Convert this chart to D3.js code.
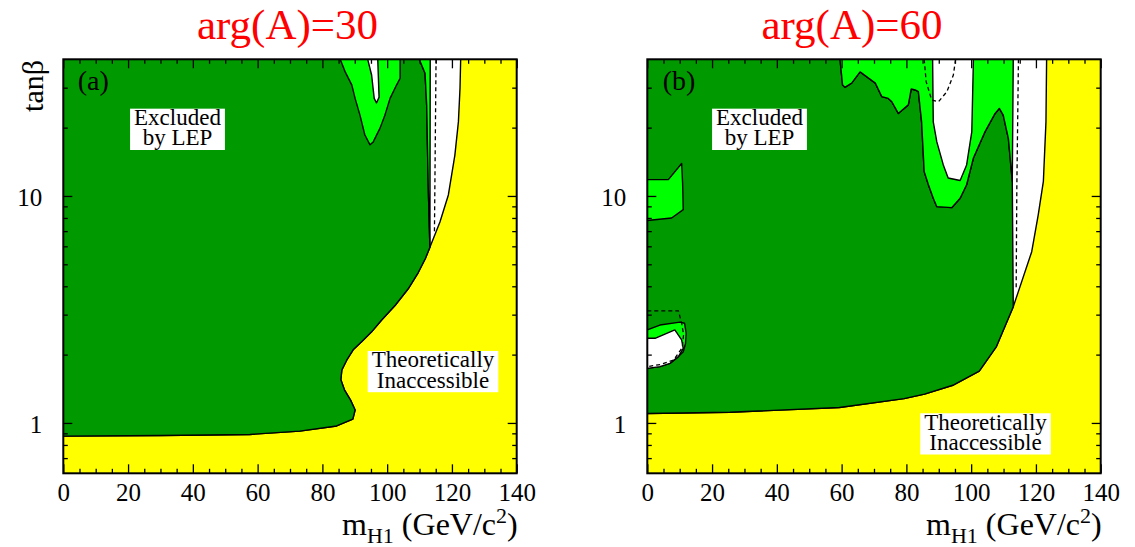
<!DOCTYPE html>
<html><head><meta charset="utf-8">
<script src="https://cdn.jsdelivr.net/npm/d3@7/dist/d3.min.js"></script>
<style>
body{margin:0;background:#fff}
svg{display:block}
text{font-family:"Liberation Serif","Times New Roman",serif;fill:#000}
</style>
</head><body>
<svg id="c" width="1135" height="547"></svg>
<script>
// ---------- data ----------
const titles = ["arg(A)=30", "arg(A)=60"];
const panelLabels = ["(a)", "(b)"];
const xTickValues = [0, 20, 40, 60, 80, 100, 120, 140];
const yTickValues = [1, 10];
const yMinorValues = [0.7, 0.8, 0.9, 2, 3, 4, 5, 6, 7, 8, 9, 20, 30];
const xDomain = [0, 140];
const yDomain = [0.6, 40];
const excludedText = ["Excluded", "by LEP"];
const theoText = ["Theoretically", "Inaccessible"];

// panel (a): mH1 [GeV], tan(beta)
const theoLowA = [[0,0.875],[30,0.88],[57.6,0.89],[73,0.92],[84.4,0.97],[89.4,1.04],[90.1,1.14],[88.7,1.26],[86.8,1.40],[85.7,1.55],[86.0,1.71],[87.5,1.89],[89.5,2.10],[92.1,2.28],[95.2,2.52],[98.3,2.84],[102.5,3.3],[106.5,3.9],[109.6,4.6],[111.8,5.3],[113.2,5.95]];
const theoHighA = [[113.2,5.95],[116.3,7.68],[118.9,10.1],[120.9,15.1],[122.0,21.2],[122.5,29.9],[122.7,40]];
const edgeA = [[113.2,5.95],[112.7,10.8],[112.2,25.2],[111.7,34.7],[109.9,40]];
const stripEdgeA = [[113.3,40],[113.2,5.95]];
const blobA = [[85.5,40],[87.0,35.3],[89.1,30.8],[90.1,26.9],[91.6,22.7],[93.1,18.6],[94.7,16.8],[95.7,17.3],[97.8,19.9],[99.3,22.7],[100.9,26.9],[102.9,30.8],[104.0,33.0],[104.0,40]];
const notchA = [[94.0,40],[95.2,34.1],[96.0,26.9],[96.7,25.7],[97.5,27.2],[97.1,40]];
const dashA = [[115.1,40],[114.6,6.9]];

// panel (b)
const theoLowB = [[0,1.10],[25.5,1.114],[59.3,1.17],[79.3,1.28],[85.6,1.34],[94.6,1.47],[102.5,1.69],[107.8,2.17],[113.0,3.25]];
const theoHighB = [[113.0,3.25],[118.7,5.68],[120.7,8.24],[122.3,11.6],[123.1,21.2],[123.3,40]];
const edgeB = [[113.0,3.25],[112.7,11.6],[111.5,17.9],[109.9,22.7],[108.7,24.3],[107.4,23.1],[104.3,19.2],[100.7,14.7],[98.6,11.2],[96.6,9.77],[94.0,8.88],[89.4,8.97],[88.3,9.77],[86.8,11.2],[85.5,12.8],[84.7,21.2],[83.7,28.8],[82.7,29.3],[81.5,29.6],[80.6,25.2],[77.5,23.1],[75.5,26.0],[74.4,26.9],[72.4,27.4],[70.4,31.4],[65.7,35.2],[63.1,31.4],[61.0,30.1],[60.3,30.8],[59.5,40]];
const stripEdgeB = [[113.0,40],[113.0,3.25]];
const holeB = [[88.1,40],[88.3,21.2],[89.4,17.3],[91.4,13.7],[92.9,12.0],[96.6,11.7],[98.6,13.7],[100.2,19.2],[100.7,40]];
const dashArcB = [[85.5,40],[86.1,31.9],[87.8,26.5],[89.9,26.0],[92.5,28.8],[94.5,34.1],[95.2,40]];
const dashVertB = [[114.6,40],[114.1,10.8],[113.9,3.9]];
const smallBlobB = [[0,11.8],[6.5,11.8],[10.6,13.9],[10.9,11.4],[11.1,8.7],[7.5,8.0],[0,7.8]];
const lowBlobB = [[0,2.57],[3.9,2.70],[10.1,2.78],[11.5,2.75],[12.0,2.48],[11.8,2.24],[11.1,2.06],[9.6,1.96],[7.0,1.83],[3.9,1.77],[0,1.74]];
const lowHoleB = [[0,2.36],[2.4,2.36],[8.5,2.57],[10.6,2.32],[11.1,2.13],[9.6,1.96],[7.0,1.83],[3.9,1.77],[0,1.74]];
const lowDashB = [[0,3.12],[9.6,3.12],[10.6,2.75],[11.2,2.45],[10.8,2.15],[8.1,1.89],[4.1,1.81],[0,1.77]];

// ---------- drawing ----------
const C = {yellow:"#ffff00", dark:"#009900", light:"#00ff00", white:"#ffffff"};
const svg = d3.select("#c");
const W = 453.4, H = 414, TOP = 59.3;

const panels = [
  {left:63.3, title:titles[0], titleX:287.5, label:panelLabels[0],
   exCx:114.2, thCx:369.7, thB1:308,
   regions(g, line){
     const top = [[0,40]];
     poly(g, line, top.concat(theoLowA, theoHighA.slice(1)), C.white);
     poly(g, line, top.concat(theoLowA, edgeA.slice(1)), C.dark);
     poly(g, line, edgeA.concat(stripEdgeA), C.light);
     poly(g, line, blobA, C.light);
     poly(g, line, notchA, C.white);
     dash(g, line, dashA);
   }},
  {left:647.3, title:titles[1], titleX:852, label:panelLabels[1],
   exCx:112.2, thCx:338.2, thB1:370.3,
   regions(g, line){
     const top = [[0,40]];
     poly(g, line, top.concat(theoLowB, theoHighB.slice(1)), C.white);
     poly(g, line, top.concat(theoLowB, edgeB.slice(1)), C.dark);
     poly(g, line, edgeB.slice(1).concat(stripEdgeB.slice(0,1)), C.light);
     poly(g, line, holeB, C.white);
     poly(g, line, smallBlobB, C.light);
     poly(g, line, lowBlobB, C.light);
     poly(g, line, lowHoleB, C.white);
     dash(g, line, dashArcB);
     dash(g, line, dashVertB);
     dash(g, line, lowDashB);
   }}
];

function poly(g, line, pts, fill){
  g.append("path").attr("d", line(pts) + "Z")
   .attr("fill", fill).attr("stroke", "#000").attr("stroke-width", 1.4)
   .attr("stroke-linejoin", "round");
}
function dash(g, line, pts){
  g.append("path").attr("d", line(pts)).attr("fill", "none")
   .attr("stroke", "#000").attr("stroke-width", 1.3).attr("stroke-dasharray", "4,3");
}
function box(g, lines, cx, b1, gap, fs){
  const tg = g.append("g");
  const rect = tg.append("rect").attr("fill", "#fff");
  const t = tg.append("text").attr("text-anchor", "middle").style("font-size", fs + "px");
  let maxW = 0;
  lines.forEach((s, i) => {
    const ts = t.append("tspan").attr("x", cx).attr("y", b1 + i*gap).text(s);
    maxW = Math.max(maxW, ts.node().getComputedTextLength());
  });
  rect.attr("x", cx - maxW/2 - 4).attr("width", maxW + 8)
      .attr("y", b1 - fs*0.71).attr("height", (lines.length-1)*gap + fs*0.71 + 4.5);
}

panels.forEach((p, i) => {
  const x = d3.scaleLinear().domain(xDomain).range([0, W]);
  const y = d3.scaleLog().domain(yDomain).range([H, 0]);
  const line = d3.line().x(d => x(d[0])).y(d => y(d[1]));
  const g = svg.append("g").attr("transform", `translate(${p.left},${TOP})`);
  const cid = "clip" + i;
  g.append("clipPath").attr("id", cid).append("rect").attr("width", W).attr("height", H);
  const pg = g.append("g").attr("clip-path", `url(#${cid})`);
  pg.append("rect").attr("width", W).attr("height", H).attr("fill", C.yellow);
  p.regions(pg, line);

  // labels
  g.append("text").attr("x", i === 0 ? 14.4 : 15.4).attr("y", 30.7)
    .style("font-size", "28px").text(p.label);
  box(g, excludedText, p.exCx, 65.7, 20.5, 23);
  box(g, theoText, p.thCx, p.thB1, 20.4, 23);

  // axes
  const minorX = d3.range(5, 140, 5).filter(v => v % 20 !== 0);
  const styleAx = sel => { sel.select(".domain").remove(); sel.selectAll("line").attr("stroke", "#000").attr("stroke-width", 1.3); };
  g.append("g").attr("transform", `translate(0,${H})`)
    .call(d3.axisBottom(x).tickValues(xTickValues).tickSizeInner(-9).tickSizeOuter(0).tickPadding(10).tickFormat(d3.format("d")))
    .call(styleAx)
    .call(s => s.selectAll("text").style("font-size", "25px").attr("font-family", null));
  g.append("g").attr("transform", `translate(0,${H})`)
    .call(d3.axisBottom(x).tickValues(minorX).tickSizeInner(-4.5).tickSizeOuter(0).tickFormat(""))
    .call(styleAx);
  g.append("g")
    .call(d3.axisTop(x).tickValues(xTickValues).tickSizeInner(-9).tickSizeOuter(0).tickFormat(""))
    .call(styleAx);
  g.append("g")
    .call(d3.axisTop(x).tickValues(minorX).tickSizeInner(-4.5).tickSizeOuter(0).tickFormat(""))
    .call(styleAx);
  g.append("g")
    .call(d3.axisLeft(y).tickValues(yTickValues).tickSizeInner(-9).tickSizeOuter(0).tickPadding(21).tickFormat(d3.format("d")))
    .call(styleAx)
    .call(s => s.selectAll("text").style("font-size", "25px").attr("dy", "0.4em").attr("font-family", null));
  g.append("g")
    .call(d3.axisLeft(y).tickValues(yMinorValues).tickSizeInner(-4.5).tickSizeOuter(0).tickFormat(""))
    .call(styleAx);
  g.append("g").attr("transform", `translate(${W},0)`)
    .call(d3.axisRight(y).tickValues(yTickValues).tickSizeInner(-9).tickSizeOuter(0).tickFormat(""))
    .call(styleAx);
  g.append("g").attr("transform", `translate(${W},0)`)
    .call(d3.axisRight(y).tickValues(yMinorValues).tickSizeInner(-4.5).tickSizeOuter(0).tickFormat(""))
    .call(styleAx);
  g.append("rect").attr("width", W).attr("height", H).attr("fill", "none")
    .attr("stroke", "#000").attr("stroke-width", 2);

  // x axis title
  const xt = g.append("text").attr("x", W + 1).attr("y", 535 - TOP)
    .attr("text-anchor", "end").style("font-size", "32px");
  xt.append("tspan").text("m");
  xt.append("tspan").attr("dy", 8).style("font-size", "22px").text("H1");
  xt.append("tspan").attr("dy", -8).text(" (GeV/c");
  xt.append("tspan").attr("dy", -12).style("font-size", "22px").text("2");
  xt.append("tspan").attr("dy", 12).text(")");

  // title
  svg.append("text").attr("x", p.titleX).attr("y", 39).attr("text-anchor", "middle")
    .style("font-size", "43px").style("fill", "#ff0000").text(p.title);
});

// y axis title (left panel only)
svg.append("text").attr("transform", "translate(43,60) rotate(-90)")
  .attr("text-anchor", "end").style("font-size", "30px").text("tanβ");
</script>
</body></html>
